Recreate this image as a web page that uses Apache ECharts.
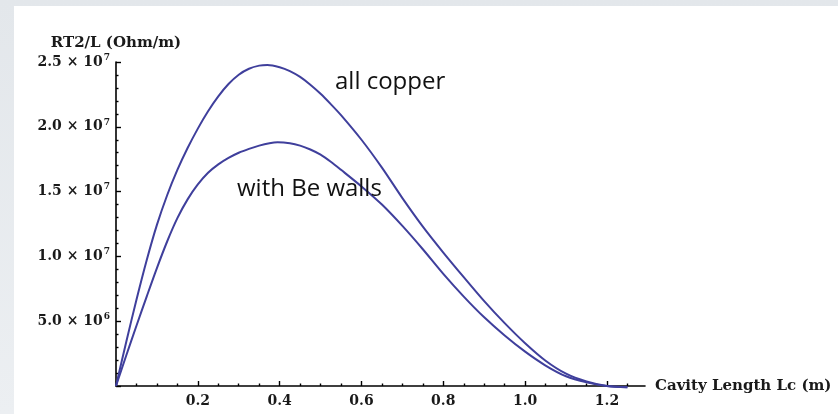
<!DOCTYPE html>
<html>
<head>
<meta charset="utf-8">
<script src="https://cdn.jsdelivr.net/npm/echarts@6/dist/echarts.min.js"></script>
<style>
  html, body { margin: 0; padding: 0; }
  body {
    width: 838px; height: 414px; overflow: hidden; position: relative;
    background: linear-gradient(180deg, #e3e7eb 0%, #eceff2 100%);
  }
  #sheet { position: absolute; left: 14px; top: 6px; right: 0; bottom: 0; background: #ffffff; }
  #chart { position: absolute; left: 0; top: 0; width: 838px; height: 414px; }
</style>
</head>
<body>
<div id="sheet"></div>
<div id="chart"></div>
<script>
// Cavity length Lc (m) and RT2/L (Ohm/m) for the all-copper cavity
const copperLength = [0, 0.025, 0.05, 0.075, 0.1, 0.125, 0.15, 0.175, 0.2, 0.225, 0.25, 0.275, 0.3, 0.325, 0.35, 0.37, 0.4, 0.425, 0.45, 0.475, 0.5, 0.525, 0.55, 0.6, 0.65, 0.7, 0.75, 0.8, 0.85, 0.9, 0.95, 1.0, 1.05, 1.1, 1.15, 1.2, 1.25];
const copperValues = [0, 0.34e7, 0.665e7, 0.97e7, 1.243e7, 1.472e7, 1.667e7, 1.836e7, 1.986e7, 2.12e7, 2.235e7, 2.33e7, 2.402e7, 2.448e7, 2.472e7, 2.477e7, 2.46e7, 2.43e7, 2.385e7, 2.325e7, 2.255e7, 2.175e7, 2.09e7, 1.90e7, 1.685e7, 1.45e7, 1.23e7, 1.03e7, 0.84e7, 0.655e7, 0.485e7, 0.33e7, 0.195e7, 0.095e7, 0.035e7, 0, -0.01e7];

// Cavity length Lc (m) and RT2/L (Ohm/m) for the cavity with Be walls
const berylliumLength = [0, 0.025, 0.05, 0.075, 0.1, 0.125, 0.15, 0.175, 0.2, 0.225, 0.25, 0.275, 0.3, 0.325, 0.35, 0.375, 0.395, 0.425, 0.45, 0.475, 0.5, 0.525, 0.55, 0.6, 0.65, 0.7, 0.75, 0.8, 0.85, 0.9, 0.95, 1.0, 1.05, 1.1, 1.15, 1.2, 1.25];
const berylliumValues = [0, 0.235e7, 0.465e7, 0.69e7, 0.91e7, 1.115e7, 1.295e7, 1.44e7, 1.555e7, 1.645e7, 1.71e7, 1.76e7, 1.80e7, 1.83e7, 1.855e7, 1.873e7, 1.88e7, 1.873e7, 1.855e7, 1.825e7, 1.785e7, 1.73e7, 1.668e7, 1.54e7, 1.40e7, 1.235e7, 1.055e7, 0.865e7, 0.69e7, 0.53e7, 0.39e7, 0.265e7, 0.158e7, 0.075e7, 0.028e7, 0, -0.01e7];

// Tick labels
const xTickValues = [0.2, 0.4, 0.6, 0.8, 1.0, 1.2];
const xTickLabels = ['0.2', '0.4', '0.6', '0.8', '1.0', '1.2'];
const yTickValues = [5e6, 1e7, 1.5e7, 2e7, 2.5e7];
const yTickMantissa = ['5.0', '1.0', '1.5', '2.0', '2.5'];
const yTickExponent = ['6', '7', '7', '7', '7'];

const pairs = (xs, ys) => xs.map((x, i) => [x, ys[i]]);

const serifFont = 'DejaVu Serif';
const curveColor = '#3f3f9c';

const chart = echarts.init(document.getElementById('chart'), null, { renderer: 'canvas' });

chart.setOption({
  backgroundColor: 'transparent',
  animation: false,
  grid: { left: 116, top: 62, width: 529, height: 324, containLabel: false },
  xAxis: {
    type: 'value',
    min: 0,
    max: 1.293,
    interval: 0.2,
    name: 'Cavity Length Lc (m)',
    nameLocation: 'end',
    nameGap: 10,
    nameTextStyle: {
      fontFamily: serifFont, fontWeight: 'bold', fontSize: 15, color: '#1a1a1a',
      align: 'left', verticalAlign: 'middle'
    },
    axisLine: { show: true, onZero: false, lineStyle: { color: '#000', width: 1.6 } },
    axisTick: { show: true, inside: true, length: 5, customValues: [0].concat(xTickValues), lineStyle: { color: '#000', width: 1.4 } },
    minorTick: { show: true, splitNumber: 4, length: 2.5, lineStyle: { color: '#000', width: 1.4 } },
    splitLine: { show: false },
    axisLabel: {
      customValues: xTickValues,
      margin: 8,
      fontFamily: serifFont, fontWeight: 'bold', fontSize: 14, color: '#1a1a1a',
      formatter: (v) => xTickLabels[xTickValues.findIndex(t => Math.abs(t - v) < 1e-9)] || ''
    }
  },
  yAxis: {
    type: 'value',
    min: 0,
    max: 2.5e7,
    interval: 5e6,
    name: 'RT2/L (Ohm/m)',
    nameLocation: 'end',
    nameGap: 19,
    nameTextStyle: {
      fontFamily: serifFont, fontWeight: 'bold', fontSize: 15, color: '#1a1a1a',
      align: 'center', verticalAlign: 'middle'
    },
    axisLine: { show: true, onZero: false, lineStyle: { color: '#000', width: 1.6 } },
    axisTick: { show: true, inside: true, length: 5, customValues: [0].concat(yTickValues), lineStyle: { color: '#000', width: 1.4 } },
    minorTick: { show: true, splitNumber: 5, length: 2.5, lineStyle: { color: '#000', width: 1.4 } },
    splitLine: { show: false },
    axisLabel: {
      customValues: yTickValues,
      margin: 6,
      formatter: (v) => {
        const i = yTickValues.findIndex(t => Math.abs(t - v) < 1);
        if (i < 0) return '';
        return '{m|' + yTickMantissa[i] + ' \u00d7 10}{e|' + yTickExponent[i] + '}';
      },
      rich: {
        m: { fontFamily: serifFont, fontWeight: 'bold', fontSize: 14, color: '#1a1a1a', lineHeight: 18 },
        e: { fontFamily: serifFont, fontWeight: 'bold', fontSize: 9, color: '#1a1a1a', verticalAlign: 'top', lineHeight: 18, padding: [0, 0, 9, 1] }
      }
    }
  },
  series: [
    {
      name: 'all copper',
      type: 'line',
      data: pairs(copperLength, copperValues),
      smooth: 0.3,
      clip: false,
      symbol: 'none',
      lineStyle: { color: curveColor, width: 2 },
      z: 3
    },
    {
      name: 'with Be walls',
      type: 'line',
      data: pairs(berylliumLength, berylliumValues),
      smooth: 0.3,
      clip: false,
      symbol: 'none',
      lineStyle: { color: curveColor, width: 2 },
      z: 3
    }
  ],
  graphic: [
    {
      type: 'text', left: 335, top: 70, z: 10,
      style: { text: 'all copper', font: '24px "Open Sans"', fill: '#111' }
    },
    {
      type: 'text', left: 237, top: 177, z: 10,
      style: { text: 'with Be walls', font: '24px "Open Sans"', fill: '#111' }
    }
  ]
});
</script>
</body>
</html>
